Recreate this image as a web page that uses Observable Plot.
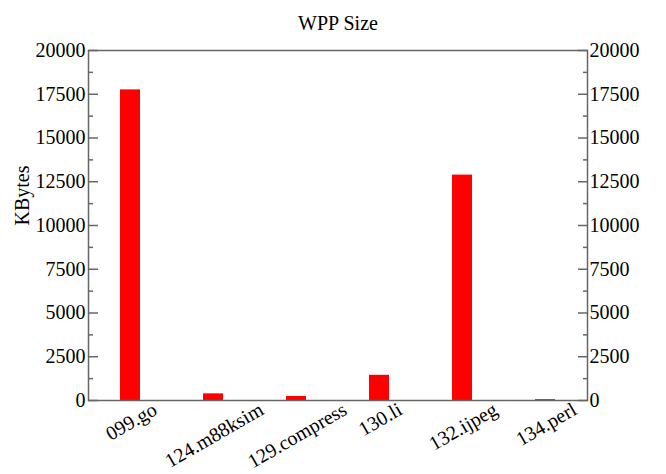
<!DOCTYPE html>
<html>
<head>
<meta charset="utf-8">
<script src="https://cdn.jsdelivr.net/npm/d3@7"></script>
<script src="https://cdn.jsdelivr.net/npm/@observablehq/plot@0.6"></script>
<style>
  html, body { margin: 0; padding: 0; background: #fff; }
  svg, svg text { font-family: "Liberation Serif", "DejaVu Serif", serif !important; }
</style>
</head>
<body>
<div id="chart"></div>
<script>
const categories = ["099.go", "124.m88ksim", "129.compress", "130.li", "132.ijpeg", "134.perl"];
const sizes = [17750, 380, 230, 1440, 12880, 50];
const majorTicks = [0, 2500, 5000, 7500, 10000, 12500, 15000, 17500, 20000];
const minorTicks = [1250, 3750, 6250, 8750, 11250, 13750, 16250, 18750];
const title = "WPP Size";
const yLabel = "KBytes";

const data = categories.map((c, i) => ({category: c, size: sizes[i]}));

const frameColor = "#666";
const serif = "'Liberation Serif', serif";

// measure label widths so rotated labels are centred under their bars
const ctx = document.createElement("canvas").getContext("2d");
ctx.font = "20px 'Liberation Serif'";
const labelWidths = categories.map(c => ctx.measureText(c).width);

const labelMarks = categories.map((c, i) =>
  Plot.text([c], {x: d => d, frameAnchor: "bottom", rotate: -30, textAnchor: "end", lineAnchor: "bottom",
    dx: labelWidths[i] * 0.433 + 4, dy: 13, fontSize: 20, fontFamily: serif, fill: "#000"})
);

const chart = Plot.plot({
  width: 666,
  height: 474,
  marginLeft: 88,
  marginRight: 79,
  marginTop: 50,
  marginBottom: 74,
  style: "font-family: 'Liberation Serif', serif; font-size: 20px; color: #000; background: #fff;",
  x: {domain: categories, paddingInner: 0.76, paddingOuter: 0.38, axis: null},
  y: {domain: [0, 20000], axis: null},
  marks: [
    Plot.barY(data, {x: "category", y: "size", fill: "#ff0000"}),
    Plot.frame({stroke: frameColor, strokeWidth: 1.5}),
    Plot.axisY({anchor: "left", ticks: majorTicks, tickSize: 10, dx: 10, tickFormat: () => "", label: null, stroke: frameColor, strokeWidth: 1.5}),
    Plot.axisY({anchor: "right", ticks: majorTicks, tickSize: 10, dx: -10, tickFormat: () => "", label: null, stroke: frameColor, strokeWidth: 1.5}),
    Plot.axisY({anchor: "left", ticks: minorTicks, tickSize: 5, dx: 5, tickFormat: () => "", label: null, stroke: frameColor, strokeWidth: 1.5}),
    Plot.axisY({anchor: "right", ticks: minorTicks, tickSize: 5, dx: -5, tickFormat: () => "", label: null, stroke: frameColor, strokeWidth: 1.5}),
    Plot.axisY({anchor: "left", ticks: majorTicks, tickSize: 0, tickPadding: 3, tickFormat: d => String(d), fontSize: 20, fontFamily: serif, fill: "#000", label: null}),
    Plot.axisY({anchor: "right", ticks: majorTicks, tickSize: 0, tickPadding: 2, tickFormat: d => String(d), fontSize: 20, fontFamily: serif, fill: "#000", label: null}),
    ...labelMarks,
    Plot.text([title], {frameAnchor: "top", dy: -35, fontSize: 20, fontFamily: serif, fill: "#000"}),
    Plot.text([yLabel], {frameAnchor: "left", dx: -66, rotate: -90, fontSize: 20, fontFamily: serif, fill: "#000"})
  ]
});

document.getElementById("chart").appendChild(chart);
</script>
</body>
</html>
